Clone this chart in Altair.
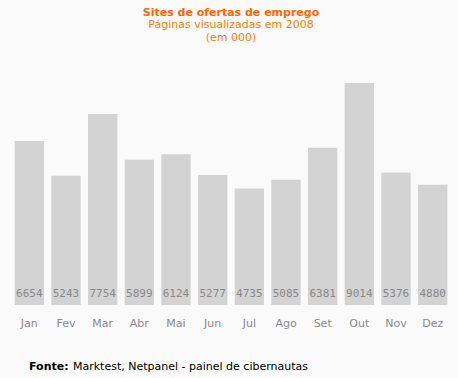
import altair as alt
import pandas as pd

months = ["Jan", "Fev", "Mar", "Abr", "Mai", "Jun", "Jul", "Ago", "Set", "Out", "Nov", "Dez"]
views = [6654, 5243, 7754, 5899, 6124, 5277, 4735, 5085, 6381, 9014, 5376, 4880]

df = pd.DataFrame({"month": months, "views": views})

FONT = "DejaVu Sans"

x = alt.X("month:N", sort=months,
          scale=alt.Scale(paddingInner=0.2, paddingOuter=0.1),
          axis=alt.Axis(title=None, labelAngle=0, domain=False, ticks=False,
                        labelPadding=12, labelColor="#888888", labelFont=FONT,
                        labelFontSize=11))
y = alt.Y("views:Q", scale=alt.Scale(domain=[0, 9014], nice=False), axis=None)

bars = alt.Chart(df).mark_bar(color="#d3d3d3").encode(x=x, y=y)

labels = alt.Chart(df).transform_calculate(zero="0").mark_text(
    dy=-11, color="#888888", font="DejaVu Sans Mono", fontSize=11, baseline="middle"
).encode(x=x, y=alt.Y("zero:Q", scale=alt.Scale(domain=[0, 9014], nice=False), axis=None),
         text=alt.Text("views:Q", format="d"))

src_bold = alt.Chart(pd.DataFrame({"t": ["Fonte:"]})).mark_text(
    align="left", baseline="middle", font=FONT, fontSize=11, fontWeight="bold", color="#000000"
).encode(x=alt.value(18), y=alt.value(284), text="t:N")

src = alt.Chart(pd.DataFrame({"t": ["Marktest, Netpanel - painel de cibernautas"]})).mark_text(
    align="left", baseline="middle", font=FONT, fontSize=11, color="#000000"
).encode(x=alt.value(62), y=alt.value(284), text="t:N")

chart = alt.layer(bars, labels, src_bold, src).properties(
    width=440, height=222,
    autosize=alt.AutoSizeParams(type="none"),
    padding={"left": 11, "top": 83, "right": 7, "bottom": 73},
    background="#fafafa",
    title=alt.TitleParams(
        text="Sites de ofertas de emprego",
        subtitle=["Páginas visualizadas em 2008", "(em 000)"],
        anchor="middle", frame="group",
        font=FONT, fontSize=11, fontWeight="bold", color="#ff6600",
        subtitleFont=FONT, subtitleFontSize=11, subtitleColor="#ff7f00",
        subtitlePadding=1, subtitleLineHeight=13, offset=40,
    ),
).configure_view(stroke=None)

chart.save("out.html", embed_options={"renderer": "svg", "actions": False})
